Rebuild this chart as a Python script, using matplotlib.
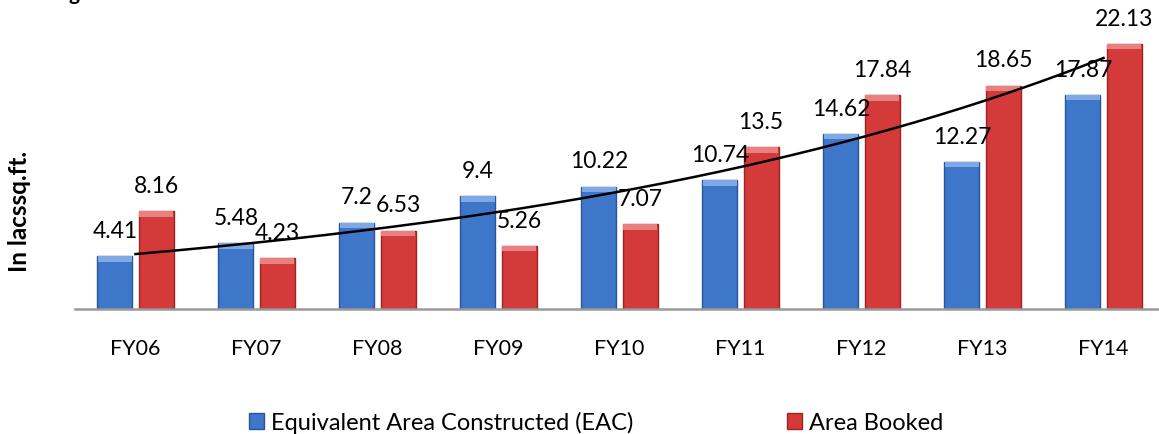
import numpy as np
import matplotlib.pyplot as plt
from matplotlib.patches import Patch

years = ["FY06", "FY07", "FY08", "FY09", "FY10", "FY11", "FY12", "FY13", "FY14"]
eac = [4.41, 5.48, 7.2, 9.4, 10.22, 10.74, 14.62, 12.27, 17.87]
booked = [8.16, 4.23, 6.53, 5.26, 7.07, 13.5, 17.84, 18.65, 22.13]

blue, blue_dark, blue_light = "#3E76C9", "#2A5599", "#7FA8E4"
red, red_dark, red_light = "#D43A3A", "#9E2424", "#E98080"

plt.rcParams["font.family"] = ["Lato", "DejaVu Sans"]

fig = plt.figure(figsize=(11.59, 4.35), dpi=100)
W, H = 1159, 435
ax = fig.add_axes([75 / W, 1 - 310 / H, 1089 / W, 290 / H])

x = np.arange(len(years))
w = 0.29
off = 0.17

for vals, pos, c, cd, cl in [(eac, x - off, blue, blue_dark, blue_light),
                             (booked, x + off, red, red_dark, red_light)]:
    ax.bar(pos, vals, w, color=c, edgecolor=cd, linewidth=1, zorder=2)
    bev = 0.45
    ax.bar(pos, [bev] * len(vals), w * 0.96, bottom=np.array(vals) - bev,
           color=cl, edgecolor="none", zorder=3)
    for p, v in zip(pos, vals):
        ax.annotate(f"{v:g}", (p, v), xytext=(0, 11), textcoords="offset points",
                    ha="center", va="bottom", fontsize=16.5, color="black", zorder=5)

# exponential trendline fitted on Area Booked
k, b = np.polyfit(x, np.log(booked), 1)
xs = np.linspace(x[0], x[-1], 200)
ax.plot(xs, np.exp(b + k * xs), color="black", lw=1.8, zorder=4)

ax.set_xlim(-0.5, len(years) - 0.5)
ax.set_ylim(0, 24.2)
ax.set_yticks([])
ax.set_xticks(x)
ax.set_xticklabels(years, fontsize=15.5)
ax.tick_params(axis="x", length=0, pad=21)
for s in ["top", "right", "left"]:
    ax.spines[s].set_visible(False)
ax.spines["bottom"].set_color("#9a9a9a")
ax.spines["bottom"].set_linewidth(1.8)

fig.text(20 / W, 1 - 212 / H, "In lacssq.ft.", rotation=90, fontsize=17.5,
         fontweight="bold", ha="center", va="center")
fig.text(74 / W, 1.0, "g", fontsize=15, fontweight="bold", ha="center", va="baseline")

handles = [Patch(facecolor=blue, edgecolor=blue_dark), Patch(facecolor=red, edgecolor=red_dark)]
fig.legend(handles, ["Equivalent Area Constructed (EAC)", "Area Booked"], ncol=2,
           loc="center", bbox_to_anchor=(596 / W, 1 - 423 / H), frameon=False,
           fontsize=17, handlelength=0.65, handleheight=0.65, handletextpad=0.3,
           columnspacing=6.5)

fig.savefig("out.png", dpi=100)
